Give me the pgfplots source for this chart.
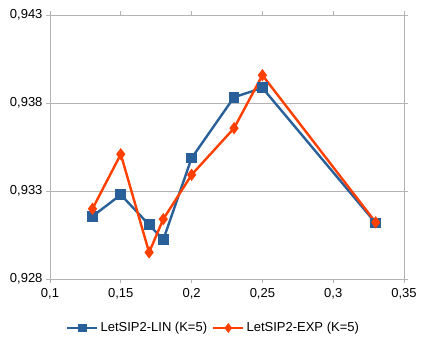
\documentclass[border=0pt]{standalone}
\usepackage{pgfplots}
\pgfplotsset{compat=1.18}
\usepackage{fontspec}
\setmainfont{Liberation Sans}
\definecolor{lin}{HTML}{2A6099}
\definecolor{expc}{HTML}{FF4000}
\definecolor{gridc}{HTML}{B3B3B3}
\begin{document}
\begin{tikzpicture}
\useasboundingbox (-50pt,-61pt) rectangle (375pt,279pt);
\begin{axis}[
  anchor=south west, at={(0,0)},
  scale only axis, width=354pt, height=264pt,
  xmin=0.1, xmax=0.35, ymin=0.928, ymax=0.943,
  xtick={0.1,0.15,...,0.35},
  ytick={0.928,0.933,0.938,0.943},
  axis line style={gridc, line width=0.8pt},
  tick style={gridc, line width=0.8pt},
  tick align=outside, major tick length=4pt,
  ymajorgrids, grid style={gridc, line width=0.8pt},
  tick label style={font=\fontsize{13}{15}\selectfont, black},
  xticklabel style={yshift=-2pt},
  /pgf/number format/assume math mode=true,
  /pgf/number format/use comma,
  yticklabel style={/pgf/number format/fixed, /pgf/number format/fixed zerofill, /pgf/number format/precision=3},
  xticklabel style={/pgf/number format/fixed, /pgf/number format/precision=2},
  scaled ticks=false,
  legend style={at={(0.462,-49pt)}, anchor=center, draw=none, legend columns=2,
    font=\fontsize{13}{15}\selectfont,
    /tikz/every even column/.append style={column sep=3pt}},
  legend image code/.code={%
    \draw[mark repeat=2, mark phase=2, #1, mark size=3pt]
      plot coordinates {(0pt,0pt) (15pt,0pt) (30pt,0pt)};},
]
\addplot[color=lin, line width=2.4pt, mark=square*, mark size=4.2pt, mark options={fill=lin}] coordinates {
  (0.13,0.93156) (0.15,0.93279) (0.17,0.93108) (0.18,0.93023)
  (0.20,0.93487) (0.23,0.93833) (0.25,0.93886) (0.33,0.93118)
};
\addlegendentry{LetSIP2-LIN (K=5)}
\addplot[color=expc, line width=2.4pt, mark=diamond*, mark size=4.2pt, mark options={fill=expc}] coordinates {
  (0.13,0.93199) (0.15,0.93509) (0.17,0.92951) (0.18,0.93140)
  (0.20,0.93392) (0.23,0.93657) (0.25,0.93958) (0.33,0.93122)
};
\addlegendentry{LetSIP2-EXP (K=5)}
\end{axis}
\end{tikzpicture}
\end{document}
